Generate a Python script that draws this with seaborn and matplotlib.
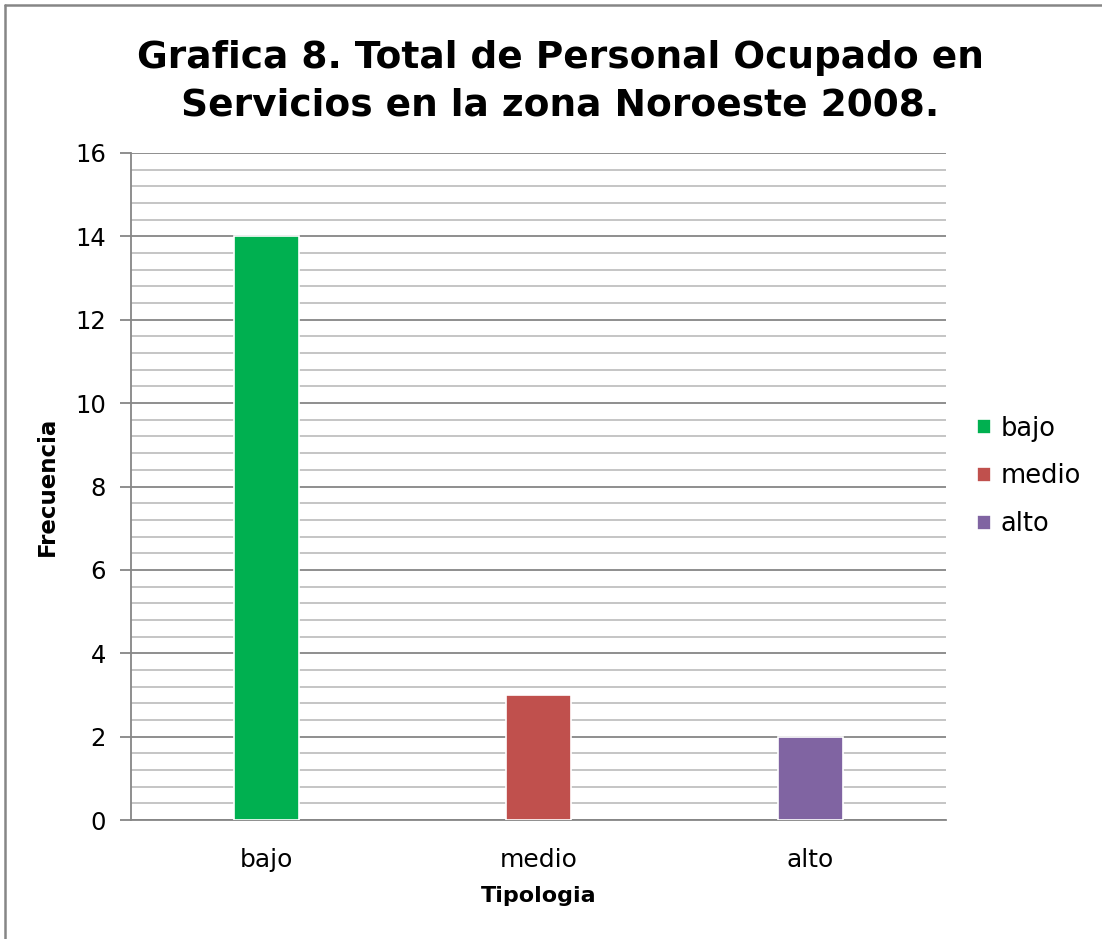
import matplotlib
matplotlib.use("Agg")
import matplotlib.pyplot as plt
import seaborn as sns
import pandas as pd
import numpy as np
from matplotlib.lines import Line2D

# --- data ---
categorias = ['bajo', 'medio', 'alto']
frecuencia = [14, 3, 2]
colores = ['#00B050', '#C0504D', '#8064A2']

df = pd.DataFrame({'Tipologia': categorias, 'Frecuencia': frecuencia})

sns.set_style('white')
plt.rcParams['font.family'] = ['DejaVu Sans']
plt.rcParams['text.color'] = 'black'
plt.rcParams['axes.labelcolor'] = 'black'
plt.rcParams['xtick.color'] = 'black'
plt.rcParams['ytick.color'] = 'black'

fig = plt.figure(figsize=(11.02, 9.39), dpi=100)
ax = fig.add_axes([131 / 1102, 1 - 820 / 939, (946 - 131) / 1102, (820 - 153) / 939])

sns.barplot(data=df, x='Tipologia', y='Frecuencia', hue='Tipologia',
            palette=colores, saturation=1, width=0.24, edgecolor='white',
            linewidth=1.2, ax=ax, legend=True, zorder=3)

# gridlines: major every 2, minor every 0.4
ax.set_ylim(0, 16)
ax.set_xlim(-0.5, 2.5)
ax.set_yticks(np.arange(0, 17, 2))
ax.set_yticks(np.arange(0, 16.01, 0.4), minor=True)
ax.grid(axis='y', which='major', color='#868686', linewidth=1.3, zorder=0)
ax.grid(axis='y', which='minor', color='#c0c0c0', linewidth=1.3, zorder=0)
ax.set_axisbelow(True)

for s in ['top', 'right']:
    ax.spines[s].set_visible(False)
for s in ['left', 'bottom']:
    ax.spines[s].set_color('#868686')
    ax.spines[s].set_linewidth(1.3)

ax.tick_params(axis='y', which='major', length=8, width=1.3, color='#868686',
               labelcolor='black', direction='out', labelsize=17.5, pad=10, left=True)
ax.tick_params(axis='y', which='minor', length=0)
ax.tick_params(axis='x', length=0, labelsize=18, pad=20, labelcolor='black')

ax.set_xlabel('Tipologia', fontsize=16, fontweight='bold', labelpad=10)
ax.set_ylabel('Frecuencia', fontsize=16.5, fontweight='bold', labelpad=12)

fig.suptitle('Grafica 8. Total de Personal Ocupado en\nServicios en la zona Noroeste 2008.',
             x=560 / 1102, y=1 - 40 / 939, fontsize=27, fontweight='bold',
             linespacing=1.42, va='top', color='black')

leg = ax.legend(loc='center left', bbox_to_anchor=(1.01, 0.515), frameon=False,
                fontsize=18.5, handlelength=0.55, handleheight=0.55,
                handletextpad=0.35, labelspacing=0.85)

# chart border (only top and left edges are visible in the crop)
x0, y0 = 5 / 1102, 1 - 5 / 939
fig.lines.append(Line2D([x0, 1], [y0, y0], transform=fig.transFigure,
                        color='#868686', linewidth=1.8))
fig.lines.append(Line2D([x0, x0], [0, y0], transform=fig.transFigure,
                        color='#868686', linewidth=1.8))

fig.savefig('out.png', dpi=100)
